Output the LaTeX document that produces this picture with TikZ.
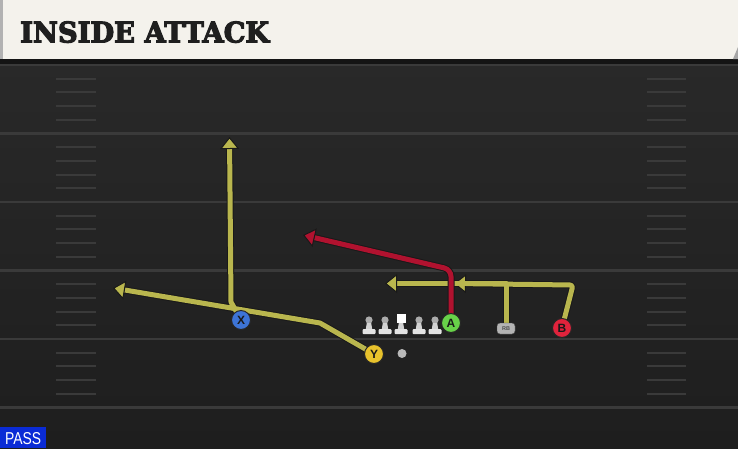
\documentclass[tikz,border=0pt]{standalone}
\usepackage{fontspec}
\usepackage{graphicx}
\usetikzlibrary{arrows.meta}
\newfontfamily\titlefont[FakeBold=4]{DejaVu Serif}
\newfontfamily\labfont{Liberation Sans}
\definecolor{cream}{HTML}{F4F2EC}
\definecolor{fieldtop}{HTML}{292929}
\definecolor{fieldbot}{HTML}{1E1E1E}
\definecolor{yardc}{HTML}{3A3A3A}
\definecolor{routey}{HTML}{B9B64E}
\definecolor{router}{HTML}{B0122F}
\definecolor{pblue}{HTML}{3D74D6}
\definecolor{pyellow}{HTML}{E8C22C}
\definecolor{pgreen}{HTML}{68D249}
\definecolor{pred}{HTML}{E0233C}
\definecolor{pgray}{HTML}{B4B4B4}
\definecolor{passblue}{HTML}{0A2BD6}
\pgfdeclarelayer{bg}
\pgfdeclarelayer{routes}
\pgfsetlayers{bg,routes,main}
\tikzset{
  yard/.style={draw=yardc, line width=2.2pt},
  hashm/.style={draw=yardc, line width=2pt},
  outl/.style={draw=black!90, line width=7pt, line cap=butt, line join=round, shorten >=9pt},
  yroute/.style={draw=routey, line width=5pt, line join=round,
     -{Triangle[width=19pt,length=12pt,color=black!90,fill=routey,line width=1pt]}},
  rroute/.style={draw=router, line width=5pt, line join=round,
     -{Triangle[width=19pt,length=12pt,color=black!90,fill=router,line width=1pt]}},
  player/.style={circle, minimum size=19pt, inner sep=0pt, draw=black!85, line width=1pt,
     font=\labfont\bfseries\fontsize{12}{12}\selectfont, text=black!90},
  pics/lineman/.style={code={
     \fill[gray!65] (0,-14) circle (3.6pt);
     \fill[gray!35] (-2.2,-11) -- (2.2,-11) -- (3.2,-5) -- (-3.2,-5) -- cycle;
     \fill[gray!22, rounded corners=1pt] (-6.5,-5) rectangle (6.5,0);
  }},
  pics/centerman/.style={code={
     \fill[white] (-4.5,-20) rectangle (4.5,-11);
     \fill[gray!35] (-2.2,-11) -- (2.2,-11) -- (3.2,-5) -- (-3.2,-5) -- cycle;
     \fill[gray!22, rounded corners=1pt] (-6.5,-5) rectangle (6.5,0);
  }}
}
\begin{document}
\begin{tikzpicture}[x=1pt,y=-1pt]
\useasboundingbox (0,0) rectangle (738,448);
\begin{pgfonlayer}{bg}
  % field
  \shade[top color=fieldtop, bottom color=fieldbot] (0,59) rectangle (738,448);
  \fill[black!92] (0,59) rectangle (738,64);
  % yard lines
  \foreach \k in {0,...,5} {
    \draw[yard] (0,{65+68.5*\k}) -- (738,{65+68.5*\k});
  }
  % hash marks
  \foreach \k in {0,...,4} {
    \foreach \j in {1,...,4} {
      \draw[hashm] (56,{65+68.5*\k+13.7*\j}) -- (96,{65+68.5*\k+13.7*\j});
      \draw[hashm] (647,{65+68.5*\k+13.7*\j}) -- (686,{65+68.5*\k+13.7*\j});
    }
  }
  % title bar
  \fill[cream] (0,0) rectangle (738,59);
  \fill[gray!60] (0,0) rectangle (3,59);
  \fill[gray!70] (733,59) -- (738,47) -- (738,59) -- cycle;
\end{pgfonlayer}

\node[anchor=south west, inner sep=0pt] (title) at (20,43)
  {\resizebox{249pt}{21pt}{\titlefont\bfseries\color{black!88}INSIDE ATTACK}};

\fill[passblue] (0,427) rectangle (46,448);
\node[anchor=south west, inner sep=0pt] (pass) at (5,445)
  {\resizebox{36pt}{12pt}{\labfont\color{white}PASS}};

% players
\node[player, fill=pblue] (X) at (241,320) {X};
\node[player, fill=pyellow] (Y) at (374,354) {Y};
\node[player, fill=pgreen] (A) at (451,323) {A};
\node[player, fill=pred] (B) at (562,328) {B};
\node[draw=black!70, fill=pgray, rounded corners=3pt, minimum width=18pt, minimum height=11pt,
      inner sep=0pt, font=\labfont\bfseries\fontsize{5.5}{5.5}\selectfont, text=black!70] (RB) at (506,328.5) {RB};
\node[circle, fill=gray!55, minimum size=9pt, inner sep=0pt] (ball) at (402,353.5) {};

\pic (L1) at (369,334) {lineman};
\pic (L2) at (385,334) {lineman};
\pic (C) at (401,334) {centerman};
\pic (L4) at (419,334) {lineman};
\pic (L5) at (435,334) {lineman};

% routes
\begin{pgfonlayer}{routes}
  \coordinate (xb) at (231,302);
  \coordinate (xe) at (229.5,137);
  \coordinate (yb) at (320,323);
  \coordinate (ye) at (113,288);
  \coordinate (rbt) at (506,283.5);
  \coordinate (rbe) at (385,283.5);
  \coordinate (bt) at (573,285);
  \coordinate (be) at (454,283.5);
  \coordinate (at) at (451,269.5);
  \coordinate (ae) at (303,235);
  % outlines
  \draw[outl] (X.center) -- (xb) -- (xe);
  \draw[outl] (Y.center) -- (yb) -- (ye);
  \draw[outl] (RB.center) -- (rbt) -- (rbe);
  \draw[outl, rounded corners=3pt] (B.center) -- (bt) -- (be);
  % colour
  \draw[yroute] (X.center) -- (xb) -- (xe);
  \draw[yroute] (Y.center) -- (yb) -- (ye);
  \draw[yroute, rounded corners=3pt] (B.center) -- (bt) -- (be);
  \draw[yroute] (RB.center) -- (rbt) -- (rbe);
  \draw[outl, rounded corners=7pt] (A.center) -- (at) -- (ae);
  \draw[rroute, rounded corners=7pt] (A.center) -- (at) -- (ae);
\end{pgfonlayer}
\end{tikzpicture}
\end{document}
